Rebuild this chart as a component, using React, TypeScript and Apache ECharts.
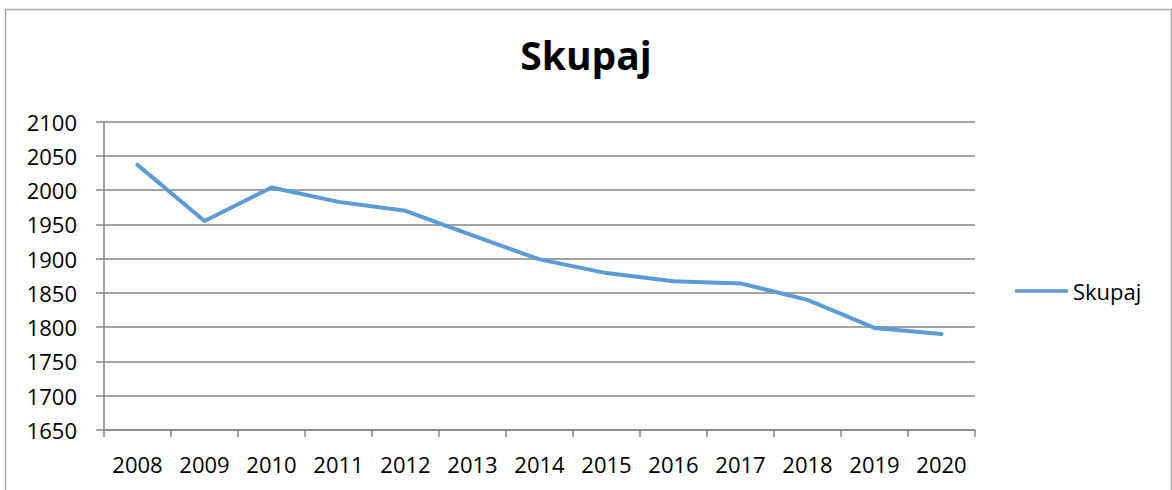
import React, { useEffect, useRef } from "react";
import * as echarts from "echarts";

const years = ["2008", "2009", "2010", "2011", "2012", "2013", "2014", "2015", "2016", "2017", "2018", "2019", "2020"];
const skupaj = [2037, 1955, 2004, 1983, 1970, 1934, 1899, 1879, 1867, 1864, 1840, 1799, 1790];
const seriesName = "Skupaj";
const titleText = "Skupaj";

const FONT = "'Open Sans', 'Noto Sans', sans-serif";

export default function App() {
  const ref = useRef<HTMLDivElement>(null);
  useEffect(() => {
    if (!ref.current) return;
    const chart = echarts.init(ref.current, null, { renderer: "svg" });
    chart.setOption({
      animation: false,
      backgroundColor: "#ffffff",
      title: {
        text: titleText,
        left: "center",
        top: 30,
        textStyle: { fontFamily: FONT, fontSize: 39, fontWeight: "bold", color: "#000000" },
      },
      graphic: [
        {
          type: "rect",
          shape: { x: 5.5, y: 9.5, width: 1166, height: 500 },
          style: { fill: "none", stroke: "#a6a6a6", lineWidth: 1.5 },
          silent: true,
          z: -1,
        },
      ],
      legend: {
        show: true,
        data: [seriesName],
        left: 1015,
        top: 280,
        padding: 0,
        icon: "rect",
        itemWidth: 53,
        itemHeight: 3.5,
        itemGap: 5,
        textStyle: { fontFamily: FONT, fontSize: 22, color: "#000000" },
      },
      grid: { left: 104, right: 197, top: 121.7, bottom: 60, containLabel: false },
      xAxis: {
        type: "category",
        data: years,
        boundaryGap: true,
        axisLine: { show: true, lineStyle: { color: "#868686", width: 1.5 } },
        axisTick: { show: true, length: 7, alignWithLabel: false, lineStyle: { color: "#868686", width: 1.5 } },
        axisLabel: { margin: 23, fontFamily: FONT, fontSize: 22, color: "#000000" },
        splitLine: { show: false },
      },
      yAxis: {
        type: "value",
        min: 1650,
        max: 2100,
        interval: 50,
        axisLine: { show: true, lineStyle: { color: "#868686", width: 1.5 } },
        axisTick: { show: true, length: 8, lineStyle: { color: "#868686", width: 1.5 } },
        axisLabel: {
          margin: 27,
          fontFamily: FONT,
          fontSize: 22,
          color: "#000000",
          formatter: (v: number) => String(v),
        },
        splitLine: { show: true, lineStyle: { color: "#868686", width: 1.5 } },
      },
      series: [
        {
          name: seriesName,
          type: "line",
          data: skupaj,
          symbol: "none",
          smooth: false,
          lineStyle: { color: "#5b9bd5", width: 4, cap: "round", join: "round" },
          itemStyle: { color: "#5b9bd5" },
        },
      ],
    });
    return () => chart.dispose();
  }, []);
  return (
    <div
      ref={ref}
      style={{ position: "fixed", left: 0, top: 0, width: 1172, height: 490, background: "#fff" }}
    />
  );
}
